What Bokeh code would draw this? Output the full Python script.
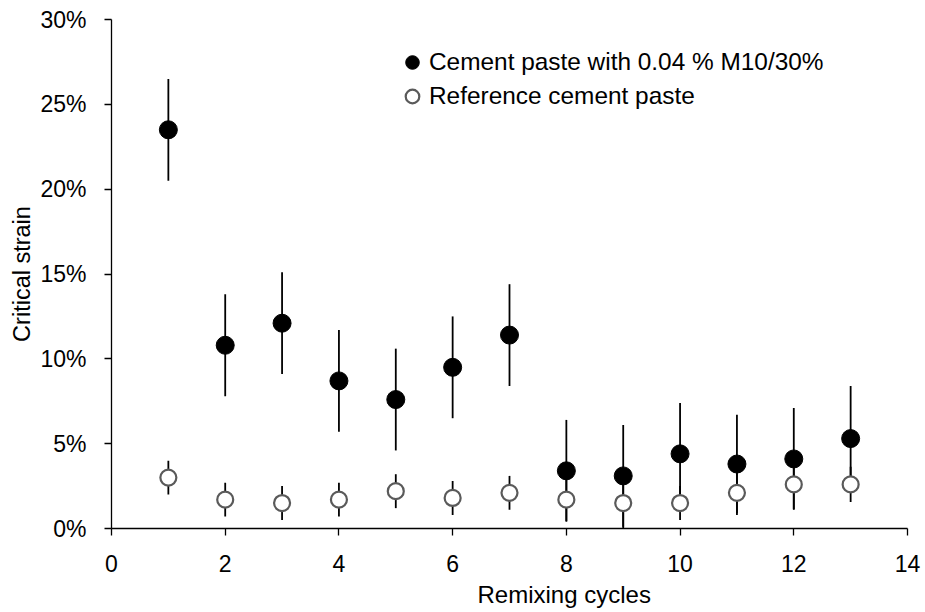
from bokeh.plotting import figure
from bokeh.models import (ColumnDataSource, NumeralTickFormatter, FixedTicker,
                          Range1d, Legend, LegendItem, Title)
from bokeh.embed import file_html
from bokeh.resources import INLINE

# ---- data (fractions of 1) ----
cycles = [1, 2, 3, 4, 5, 6, 7, 8, 9, 10, 11, 12, 13]
m10_mean = [0.235, 0.108, 0.121, 0.087, 0.076, 0.095, 0.114,
            0.034, 0.031, 0.044, 0.038, 0.041, 0.053]
m10_err = [0.03, 0.03, 0.03, 0.03, 0.03, 0.03, 0.03,
           0.03, 0.03, 0.03, 0.029, 0.03, 0.031]
ref_mean = [0.030, 0.017, 0.015, 0.017, 0.022, 0.018, 0.021,
            0.017, 0.015, 0.015, 0.021, 0.026, 0.026]
ref_err = [0.01, 0.01, 0.01, 0.01, 0.01, 0.01, 0.01,
           0.0126, 0.015, 0.01, 0.013, 0.0147, 0.0104]
x_ticks = [0, 2, 4, 6, 8, 10, 12, 14]
y_ticks = [0, 0.05, 0.10, 0.15, 0.20, 0.25, 0.30]
label_m10 = "Cement paste with 0.04 % M10/30%"
label_ref = "Reference cement paste"
x_title = "Remixing cycles"
y_title = "Critical strain"

FONT = "Liberation Sans"
FS = "23px"

m10 = ColumnDataSource(dict(
    x=cycles, y=m10_mean,
    lo=[m - e for m, e in zip(m10_mean, m10_err)],
    hi=[m + e for m, e in zip(m10_mean, m10_err)]))
ref = ColumnDataSource(dict(
    x=cycles, y=ref_mean,
    lo=[m - e for m, e in zip(ref_mean, ref_err)],
    hi=[m + e for m, e in zip(ref_mean, ref_err)]))

p = figure(width=925, height=612, output_backend="svg", toolbar_location=None,
           x_range=Range1d(0, 14), y_range=Range1d(0, 0.30),
           min_border_left=111, min_border_right=18,
           min_border_top=19, min_border_bottom=84)
p.outline_line_color = None
p.grid.visible = False
p.background_fill_color = "white"
p.border_fill_color = "white"

p.segment(x0="x", y0="lo", x1="x", y1="hi", source=m10,
          line_color="black", line_width=1.8)
p.segment(x0="x", y0="lo", x1="x", y1="hi", source=ref,
          line_color="black", line_width=1.8)
r_m10 = p.scatter("x", "y", source=m10, size=18, fill_color="black",
                  line_color="black", line_width=1)
r_ref = p.scatter("x", "y", source=ref, size=16, fill_color="white",
                  line_color="#5a5a5a", line_width=2.2)

for ax in (p.xaxis[0], p.yaxis[0]):
    ax.axis_line_color = "black"
    ax.axis_line_width = 1.3
    ax.major_tick_line_color = "black"
    ax.major_tick_line_width = 1.3
    ax.major_tick_in = 0
    ax.major_tick_out = 7
    ax.minor_tick_line_color = None
    ax.major_label_text_font = FONT
    ax.major_label_text_font_size = FS
    ax.major_label_text_color = "black"
    ax.axis_label_text_font = FONT
    ax.axis_label_text_font_size = "23.5px"
    ax.axis_label_text_font_style = "normal"
    ax.axis_label_text_color = "black"

p.xaxis.ticker = FixedTicker(ticks=x_ticks)
p.yaxis.ticker = FixedTicker(ticks=y_ticks)
p.yaxis.formatter = NumeralTickFormatter(format="0%")
p.xaxis.major_label_standoff = 19
p.yaxis.major_label_standoff = 18
p.yaxis.axis_label = y_title
p.yaxis.axis_label_standoff = 2

xt = Title(text=x_title, align="left", offset=366, text_font=FONT,
           text_font_size="24px", text_font_style="normal",
           text_color="black", standoff=9)
p.add_layout(xt, "below")

legend = Legend(items=[LegendItem(label=label_m10, renderers=[r_m10]),
                       LegendItem(label=label_ref, renderers=[r_ref])],
                location=(284, 415), glyph_width=34, glyph_height=34,
                label_standoff=0, padding=0, spacing=0, margin=0,
                border_line_color=None, background_fill_alpha=0,
                label_text_font=FONT, label_text_font_size="24.4px",
                label_text_color="black")
p.add_layout(legend)

open("out.html", "w").write(file_html(p, INLINE))
